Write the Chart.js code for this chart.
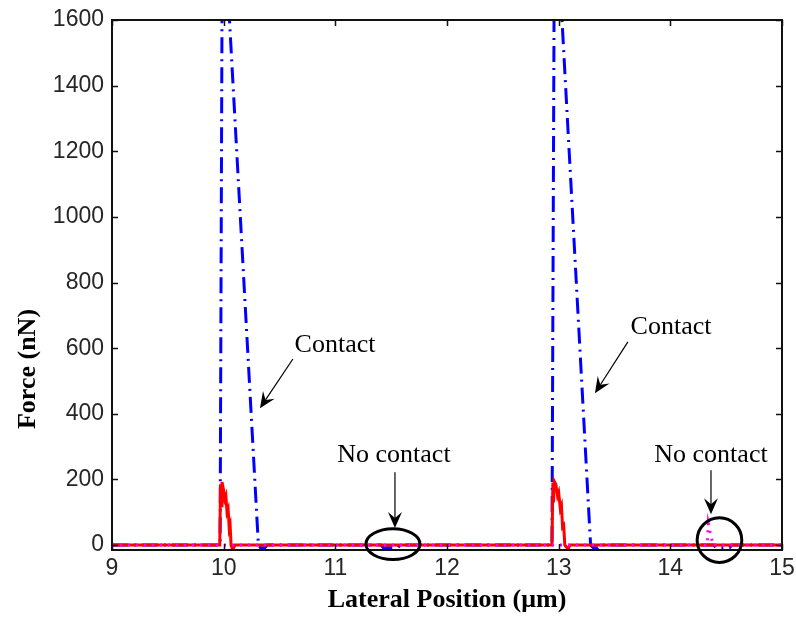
<!DOCTYPE html>
<html>
<head>
<meta charset="utf-8">
<script src="https://cdn.jsdelivr.net/npm/chart.js@4.4.1/dist/chart.umd.min.js"></script>
<style>
  html, body { margin: 0; padding: 0; background: #fff; }
  #wrap { width: 796px; height: 617px; }
</style>
</head>
<body>
<div id="wrap"><canvas id="c" width="796" height="617"></canvas></div>
<script>
// dash-dot blue curve (x in µm, force in nN)
const blueX = [9, 9.968, 9.9855, 10.044, 10.311, 10.33, 10.37, 10.39, 11.41, 11.43, 11.56, 11.58,
               12.94, 12.959, 13.022, 13.286, 13.31, 13.35, 13.37, 14.39, 14.41, 14.53, 14.55, 15];
const blueY = [0, 0, 1650, 1650, 0, -8, -8, 0, 0, -8, -8, 0,
               0, 1650, 1650, 0, -8, -8, 0, 0, -8, -8, 0, 0];
// solid red curve
const redX = [9, 9.965, 9.972, 9.978, 9.985, 9.998, 10.01, 10.02, 10.03, 10.04, 10.05, 10.058, 10.066, 10.075, 10.09, 10.1,
              12.94, 12.948, 12.954, 12.96, 12.975, 12.99, 13.0, 13.015, 13.025, 13.035, 13.045, 13.055, 13.075, 13.09, 13.1, 15];
const redY = [0, 0, 185, 120, 192, 170, 140, 150, 100, 110, 50, 60, 0, -8, -8, 0,
              0, 190, 130, 195, 185, 150, 160, 110, 120, 55, 60, 0, -8, -8, 0, 0];
// dotted magenta curve
const magX = [9, 14.33, 14.34, 14.355, 14.37, 14.38, 15];
const magY = [0, 0, 65, 40, 20, 0, 0];

const xTicks = [9, 10, 11, 12, 13, 14, 15];
const yTicks = [0, 200, 400, 600, 800, 1000, 1200, 1400, 1600];

// annotations in data units
const labels = [
  { text: 'Contact', x: 10.997, y: 610 },
  { text: 'Contact', x: 14.006, y: 664 },
  { text: 'No contact', x: 11.525, y: 274 },
  { text: 'No contact', x: 14.364, y: 274 }
];
const arrows = [
  { x0: 10.62, y0: 567, x1: 10.325, y1: 417 },
  { x0: 13.62, y0: 619, x1: 13.325, y1: 463 },
  { x0: 11.534, y0: 222, x1: 11.534, y1: 52 },
  { x0: 14.364, y0: 228, x1: 14.364, y1: 94 }
];
const ellipses = [
  { x: 11.516, y: 3, rx: 0.242, ry: 47 },
  { x: 14.44, y: 15, rx: 0.2, ry: 68 }
];

const pts = (xs, ys) => xs.map((x, i) => ({ x, y: ys[i] }));

const matlabLook = {
  id: 'matlabLook',
  afterDatasetsDraw(chart) {
    const { ctx, chartArea: a, scales: { x, y } } = chart;
    ctx.save();
    // box + inward ticks
    ctx.strokeStyle = '#111';
    ctx.lineWidth = 2;
    ctx.strokeRect(a.left, a.top, a.right - a.left, a.bottom - a.top);
    ctx.lineWidth = 1.5;
    ctx.beginPath();
    xTicks.forEach(v => {
      const px = Math.round(x.getPixelForValue(v)) + 0.5;
      ctx.moveTo(px, a.bottom); ctx.lineTo(px, a.bottom - 6);
      ctx.moveTo(px, a.top); ctx.lineTo(px, a.top + 6);
    });
    yTicks.forEach(v => {
      const py = Math.round(y.getPixelForValue(v)) + 0.5;
      ctx.moveTo(a.left, py); ctx.lineTo(a.left + 6, py);
      ctx.moveTo(a.right, py); ctx.lineTo(a.right - 6, py);
    });
    ctx.stroke();

    // ellipses
    ctx.strokeStyle = '#000';
    ctx.lineWidth = 3;
    ellipses.forEach(e => {
      const cx = x.getPixelForValue(e.x), cy = y.getPixelForValue(e.y);
      const rx = Math.abs(x.getPixelForValue(e.x + e.rx) - cx);
      const ry = Math.abs(y.getPixelForValue(e.y + e.ry) - cy);
      ctx.beginPath();
      ctx.ellipse(cx, cy, rx, ry, 0, 0, Math.PI * 2);
      ctx.stroke();
    });

    // arrows
    ctx.fillStyle = '#000';
    arrows.forEach(ar => {
      const x0 = x.getPixelForValue(ar.x0), y0 = y.getPixelForValue(ar.y0);
      const x1 = x.getPixelForValue(ar.x1), y1 = y.getPixelForValue(ar.y1);
      const ang = Math.atan2(y1 - y0, x1 - x0);
      const len = 16, half = 7, notch = 10;
      ctx.lineWidth = 1.2;
      ctx.beginPath();
      ctx.moveTo(x0, y0);
      ctx.lineTo(x1 - Math.cos(ang) * notch, y1 - Math.sin(ang) * notch);
      ctx.stroke();
      ctx.save();
      ctx.translate(x1, y1);
      ctx.rotate(ang);
      ctx.beginPath();
      ctx.moveTo(0, 0);
      ctx.lineTo(-len, -half);
      ctx.lineTo(-notch, 0);
      ctx.lineTo(-len, half);
      ctx.closePath();
      ctx.fill();
      ctx.restore();
    });

    // text labels
    ctx.font = '26px "Liberation Serif", "Times New Roman", serif';
    ctx.textAlign = 'center';
    ctx.textBaseline = 'middle';
    ctx.fillStyle = '#000';
    labels.forEach(l => ctx.fillText(l.text, x.getPixelForValue(l.x), y.getPixelForValue(l.y)));

    // y axis title
    ctx.font = 'bold 26px "Liberation Serif", "Times New Roman", serif';
    ctx.translate(28, 369);
    ctx.rotate(-Math.PI / 2);
    ctx.fillText('Force (nN)', 0, 0);
    ctx.restore();
  }
};

const tickFont = { family: '"Liberation Sans", Arial, sans-serif', size: 23 };

new Chart(document.getElementById('c'), {
  type: 'line',
  data: {
    datasets: [
      { label: 'magenta', data: pts(magX, magY), borderColor: '#ff00ff', borderWidth: 3, borderDash: [2, 6], pointRadius: 0, tension: 0, clip: 0 },
      { label: 'red', data: pts(redX, redY), borderColor: '#ff0000', borderWidth: 3, pointRadius: 0, tension: 0, clip: 0 },
      { label: 'blue', data: pts(blueX, blueY), borderColor: '#0000ff', borderWidth: 3, borderDash: [16, 6, 2, 6], pointRadius: 0, tension: 0, clip: 0 }
    ]
  },
  options: {
    responsive: false,
    animation: false,
    layout: { padding: { left: 0, right: 14, top: 20, bottom: 0 } },
    plugins: { legend: { display: false }, tooltip: { enabled: false } },
    scales: {
      x: {
        type: 'linear', min: 9, max: 15,
        afterBuildTicks: s => { s.ticks = xTicks.map(v => ({ value: v })); },
        afterFit: s => { s.height = 67; s.paddingLeft = 0; s.paddingRight = 0; },
        grid: { display: false, drawTicks: false },
        border: { display: false },
        ticks: { color: '#262626', padding: 5, font: tickFont, callback: v => String(v) },
        title: {
          display: true, text: 'Lateral Position (μm)', color: '#000',
          padding: { top: 0, bottom: 1 },
          font: { family: '"Liberation Serif", "Times New Roman", serif', size: 26, weight: 'bold' }
        }
      },
      y: {
        type: 'linear', min: -15, max: 1600,
        afterBuildTicks: s => { s.ticks = yTicks.map(v => ({ value: v })); },
        afterFit: s => { s.width = 112; s.paddingTop = 0; s.paddingBottom = 0; },
        grid: { display: false, drawTicks: false },
        border: { display: false },
        ticks: { color: '#262626', padding: 8, font: tickFont, callback: v => String(v) }
      }
    }
  },
  plugins: [matlabLook]
});
</script>
</body>
</html>
